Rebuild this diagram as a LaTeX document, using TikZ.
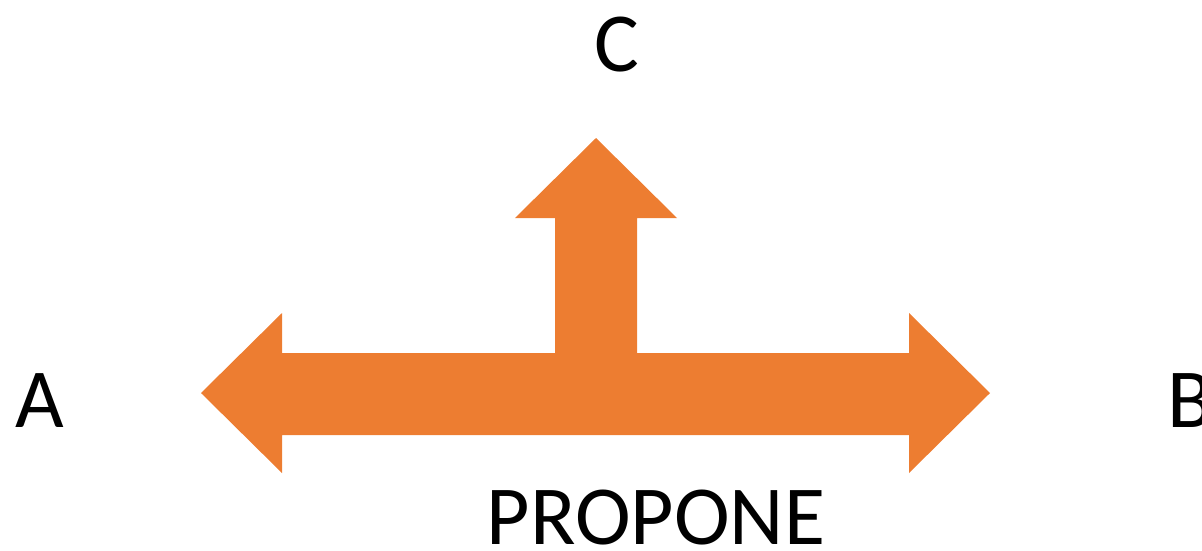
\documentclass[tikz,border=0pt]{standalone}
\usepackage{fontspec}
\setmainfont{Carlito}
\definecolor{arroworange}{HTML}{ED7D31}
\begin{document}
\begin{tikzpicture}[x=1pt,y=-1pt,
  lbl/.style={inner sep=0pt,font=\fontsize{84}{100}\selectfont,text=black}]
\useasboundingbox (0,0) rectangle (1202,550);
\fill[arroworange] (201,393) -- (282,313) -- (282,353) -- (555,353) -- (555,218) -- (515,218)
  -- (596,138) -- (677,218) -- (637,218) -- (637,353) -- (909,353) -- (909,313)
  -- (990,393) -- (909,473) -- (909,435) -- (282,435) -- (282,473) -- cycle;
\node[lbl] (c) at (617,45) {C};
\node[lbl,anchor=west] (a) at (15,401) {A};
\node[lbl,anchor=west] (b) at (1167,401) {B};
\node[lbl] (p) at (656,518) {PROPONE};
\end{tikzpicture}
\end{document}
